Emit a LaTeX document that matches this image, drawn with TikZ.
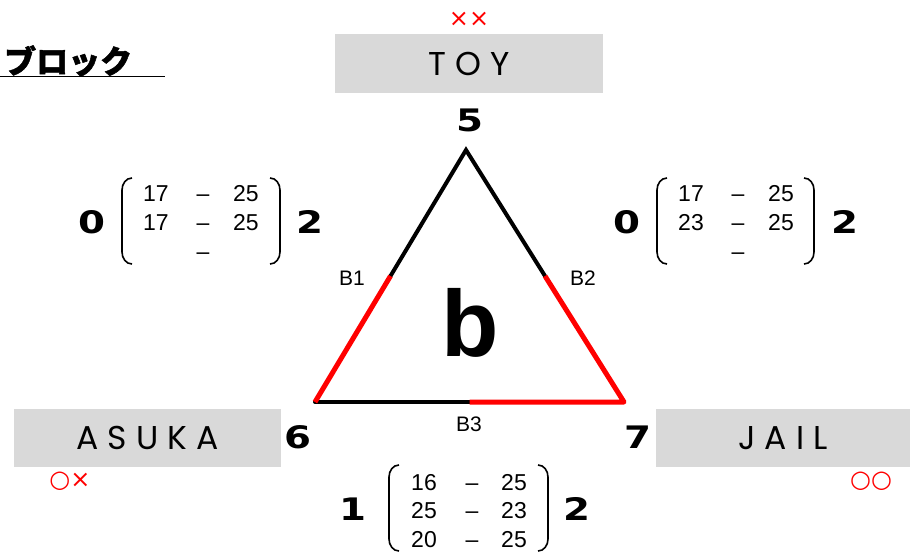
\documentclass[tikz,border=0pt]{standalone}
\usepackage{fontspec}
\setmainfont{Liberation Sans}
\newfontfamily\cjk[BoldFeatures={FakeBold=1.5}]{Noto Sans CJK JP}
\newfontfamily\boxfont[LetterSpace=28]{Poppins}
\newfontfamily\numfont{DejaVu Sans}
\usetikzlibrary{positioning,calc}
\definecolor{boxgray}{RGB}{217,217,217}
\definecolor{markred}{RGB}{255,0,0}
\newcommand{\wide}[1]{\scalebox{1.25}[1]{#1}}
\tikzset{
  namebox/.style={fill=boxgray, inner sep=0pt, font=\boxfont\fontsize{33}{36}\selectfont},
  marktext/.style={text=markred, inner sep=0pt, font=\numfont\fontsize{24}{26}\selectfont},
  bignum/.style={inner sep=0pt, font=\numfont\bfseries\fontsize{31}{33}\selectfont},
  cell/.style={inner sep=0pt, text height=16pt, text depth=0pt, font=\fontsize{23}{25}\selectfont},
  sidelabel/.style={inner sep=0pt, font=\fontsize{21}{23}\selectfont},
  edgeblack/.style={line width=4pt, black, line cap=round},
  edgered/.style={line width=5pt, markred, line join=round},
  paren/.style={line width=1.6pt}
}

\begin{document}
\begin{tikzpicture}[x=1pt, y=-1pt]
        \useasboundingbox (0,0) rectangle (910,552);
        % title
        \node[inner sep=0pt, anchor=west, font=\cjk\bfseries\fontsize{32}{34}\selectfont] (title) at (4,61) {ブロック};
        \coordinate (ulA) at (0,76);
        \coordinate (ulB) at (165,76);
        \draw[line width=1pt] (ulA) -- (ulB);
        % name boxes
        \node[namebox, minimum width=268pt, minimum height=59pt] (toy) at (469,63.5) {TOY};
        \node[namebox, minimum width=267pt, minimum height=58pt] (asuka) at (147.5,438) {ASUKA};
        \node[namebox, minimum width=254pt, minimum height=58pt] (jail) at (783,438) {JAIL};
        \node[marktext] (toymk) at (469,19) {××};
        \node[marktext] (asukamk) at (70,481) {○×};
        \node[marktext] (jailmk) at (871,481) {○○};
        % triangle
        \coordinate (top) at (466,150);
        \coordinate (left) at (315,402);
        \coordinate (right) at (624,402);
        \coordinate (m1) at ($(top)!0.5!(left)$);
        \coordinate (m2) at ($(top)!0.5!(right)$);
        \coordinate (m3) at ($(left)!0.5!(right)$);
        \draw[edgeblack, line join=miter] (m1) -- (top) -- (m2);
        \draw[edgeblack] (left) -- (m3);
        \draw[edgered] (m1) -- (left);
        \draw[edgered] (m2) -- (right) -- (m3);
        \node[sidelabel] (b1) at (352,278) {B1};
        \node[sidelabel] (b2) at (583,278) {B2};
        \node[sidelabel] (b3) at (469,424) {B3};
        \node[inner sep=0pt, font=\bfseries\fontsize{94}{98}\selectfont] (blk) at (470,323) {b};
        \node[bignum] (n5) at (470,120) {\wide{5}};
        \node[bignum] (n6) at (298,437) {\wide{6}};
        \node[bignum] (n7) at (638,437) {\wide{7}};
        % left matrix
        \node[bignum] (lz) at (92,222) {\wide{0}};
        \node[bignum] (lt) at (310,222) {\wide{2}};
        \foreach \a/\b/\y in {17/25/193, 17/25/222, /{}/251}{
          \node[cell] at (156,\y) {\a};
          \node[cell] at (203,\y) {--};
          \node[cell] at (246,\y) {\b};
        }
        \draw[paren] (132,178) to[out=180,in=90] (122,190) -- (122,252) to[out=-90,in=180] (132,264);
        \draw[paren] (270,178) to[out=0,in=90] (280,190) -- (280,252) to[out=-90,in=0] (270,264);
        % right matrix
        \node[bignum] (rz) at (627,222) {\wide{0}};
        \node[bignum] (rt) at (845,222) {\wide{2}};
        \foreach \a/\b/\y in {17/25/193, 23/25/222, /{}/251}{
          \node[cell] at (691,\y) {\a};
          \node[cell] at (738,\y) {--};
          \node[cell] at (781,\y) {\b};
        }
        \draw[paren] (667,178) to[out=180,in=90] (657,190) -- (657,252) to[out=-90,in=180] (667,264);
        \draw[paren] (804,178) to[out=0,in=90] (814,190) -- (814,252) to[out=-90,in=0] (804,264);
        % bottom matrix
        \node[bignum] (bo) at (353,509) {\wide{1}};
        \node[bignum] (bt) at (577,509) {\wide{2}};
        \foreach \a/\b/\y in {16/25/482, 25/23/510, 20/25/539}{
          \node[cell] at (424,\y) {\a};
          \node[cell] at (472,\y) {--};
          \node[cell] at (514,\y) {\b};
        }
        \draw[paren] (399,465) to[out=180,in=90] (389,477) -- (389,539) to[out=-90,in=180] (399,551);
        \draw[paren] (538,465) to[out=0,in=90] (548,477) -- (548,539) to[out=-90,in=0] (538,551);
      \end{tikzpicture}
\end{document}
